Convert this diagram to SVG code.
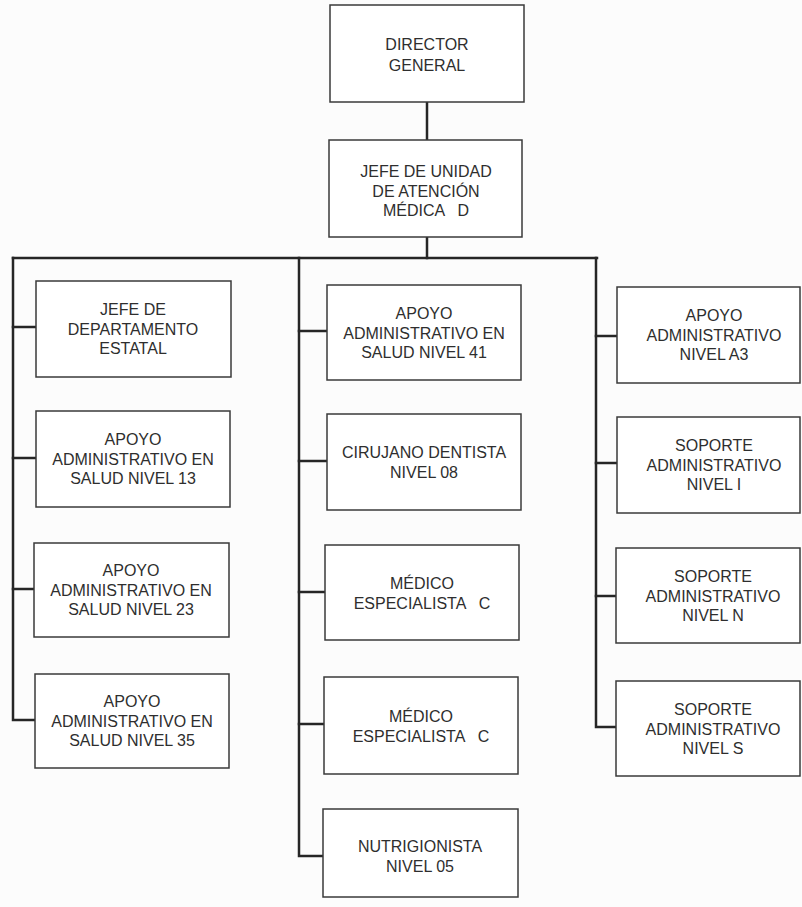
<svg xmlns="http://www.w3.org/2000/svg" width="802" height="907" viewBox="0 0 802 907">
  <style>
    .box { fill: #ffffff; stroke: #3a3a3a; stroke-width: 1.5; }
    .lbl { font-family: "Liberation Sans", "Arial", sans-serif; font-size: 16px; fill: #2e2e2e; text-anchor: middle; white-space: pre; }
    .wire { fill: none; stroke: #262626; stroke-width: 2.5; stroke-linecap: square; }
  </style>
  <rect width="802" height="907" fill="#fcfcfc"/>

  <!-- connectors -->
  <g id="connectors" class="wire">
    <path d="M427 102 V140"/>
    <path d="M427 237 V258"/>
    <path d="M13 258 H597"/>
    <!-- left branch -->
    <path d="M13 258 V720 H35"/>
    <path d="M13 327 H36"/>
    <path d="M13 458 H36"/>
    <path d="M13 589 H34"/>
    <!-- middle branch -->
    <path d="M299 258 V856 H323"/>
    <path d="M299 331 H327"/>
    <path d="M299 461 H327"/>
    <path d="M299 592 H325"/>
    <path d="M299 724 H324"/>
    <!-- right branch -->
    <path d="M596 258 V727 H616"/>
    <path d="M596 336 H617"/>
    <path d="M596 463 H617"/>
    <path d="M596 596 H616"/>
  </g>

  <g id="director">
    <rect class="box" x="330" y="5" width="194" height="97"/>
    <text class="lbl" x="427" y="50">DIRECTOR</text>
    <text class="lbl" x="427" y="71">GENERAL</text>
  </g>

  <g id="jefe-unidad">
    <rect class="box" x="329" y="140" width="193" height="97"/>
    <text class="lbl" x="426" y="177">JEFE DE UNIDAD</text>
    <text class="lbl" x="426" y="197">DE ATENCIÓN</text>
    <text class="lbl" x="426" y="216">MÉDICA   D</text>
  </g>

  <!-- left column -->
  <g id="jefe-depto">
    <rect class="box" x="36" y="281" width="195" height="96"/>
    <text class="lbl" x="133" y="315">JEFE DE</text>
    <text class="lbl" x="133" y="335">DEPARTAMENTO</text>
    <text class="lbl" x="133" y="354">ESTATAL</text>
  </g>
  <g id="apoyo-13">
    <rect class="box" x="36" y="411" width="194" height="96"/>
    <text class="lbl" x="133" y="445">APOYO</text>
    <text class="lbl" x="133" y="465">ADMINISTRATIVO EN</text>
    <text class="lbl" x="133" y="484">SALUD NIVEL 13</text>
  </g>
  <g id="apoyo-23">
    <rect class="box" x="34" y="543" width="195" height="94"/>
    <text class="lbl" x="131" y="576">APOYO</text>
    <text class="lbl" x="131" y="596">ADMINISTRATIVO EN</text>
    <text class="lbl" x="131" y="615">SALUD NIVEL 23</text>
  </g>
  <g id="apoyo-35">
    <rect class="box" x="35" y="674" width="194" height="94"/>
    <text class="lbl" x="132" y="707">APOYO</text>
    <text class="lbl" x="132" y="727">ADMINISTRATIVO EN</text>
    <text class="lbl" x="132" y="746">SALUD NIVEL 35</text>
  </g>

  <!-- middle column -->
  <g id="apoyo-41">
    <rect class="box" x="327" y="285" width="194" height="95"/>
    <text class="lbl" x="424" y="319">APOYO</text>
    <text class="lbl" x="424" y="339">ADMINISTRATIVO EN</text>
    <text class="lbl" x="424" y="358">SALUD NIVEL 41</text>
  </g>
  <g id="cirujano">
    <rect class="box" x="327" y="414" width="194" height="96"/>
    <text class="lbl" x="424" y="458">CIRUJANO DENTISTA</text>
    <text class="lbl" x="424" y="478">NIVEL 08</text>
  </g>
  <g id="medico-1">
    <rect class="box" x="325" y="545" width="194" height="95"/>
    <text class="lbl" x="422" y="589">MÉDICO</text>
    <text class="lbl" x="422" y="609">ESPECIALISTA   C</text>
  </g>
  <g id="medico-2">
    <rect class="box" x="324" y="677" width="194" height="97"/>
    <text class="lbl" x="421" y="722">MÉDICO</text>
    <text class="lbl" x="421" y="742">ESPECIALISTA   C</text>
  </g>
  <g id="nutrigionista">
    <rect class="box" x="323" y="809" width="195" height="88"/>
    <text class="lbl" x="420" y="852">NUTRIGIONISTA</text>
    <text class="lbl" x="420" y="872">NIVEL 05</text>
  </g>

  <!-- right column -->
  <g id="apoyo-a3">
    <rect class="box" x="617" y="287" width="183" height="96"/>
    <text class="lbl" x="714" y="321">APOYO</text>
    <text class="lbl" x="714" y="341">ADMINISTRATIVO</text>
    <text class="lbl" x="714" y="360">NIVEL A3</text>
  </g>
  <g id="soporte-i">
    <rect class="box" x="617" y="417" width="183" height="96"/>
    <text class="lbl" x="714" y="451">SOPORTE</text>
    <text class="lbl" x="714" y="471">ADMINISTRATIVO</text>
    <text class="lbl" x="714" y="490">NIVEL I</text>
  </g>
  <g id="soporte-n">
    <rect class="box" x="616" y="548" width="184" height="95"/>
    <text class="lbl" x="713" y="582">SOPORTE</text>
    <text class="lbl" x="713" y="602">ADMINISTRATIVO</text>
    <text class="lbl" x="713" y="621">NIVEL N</text>
  </g>
  <g id="soporte-s">
    <rect class="box" x="616" y="681" width="184" height="95"/>
    <text class="lbl" x="713" y="715">SOPORTE</text>
    <text class="lbl" x="713" y="735">ADMINISTRATIVO</text>
    <text class="lbl" x="713" y="754">NIVEL S</text>
  </g>
</svg>
